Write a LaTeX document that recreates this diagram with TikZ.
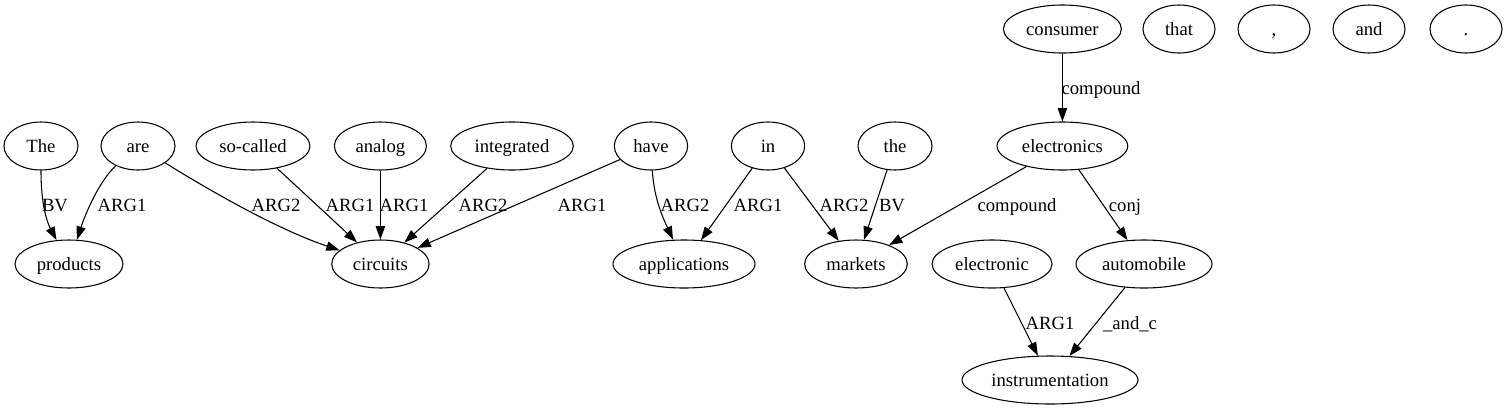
\documentclass[tikz,border=0pt]{standalone}
\usepackage{fontspec}
\setmainfont{Liberation Serif}
\usetikzlibrary{shapes.geometric,arrows.meta}
\begin{document}
\begin{tikzpicture}[x=0.75pt,y=-0.75pt,
  font=\fontsize{14pt}{17pt}\selectfont,
  every node/.style={text height=12pt,text depth=2.5pt},
  nd/.style={ellipse,draw,line width=0.8pt,inner sep=0pt,minimum height=36pt,minimum width=54pt},
  ed/.style={line width=0.8pt,-{Triangle[length=10pt,width=7pt]}},
  lb/.style={inner sep=0pt}]
\useasboundingbox (0,0) rectangle (1512,411);
% row 1
\node[nd,minimum width=88.5pt] (consumer) at (1062.4,29) {consumer};
\node[nd] (that) at (1179,29) {that};
\node[nd] (comma) at (1274,29) {,};
\node[nd] (and) at (1369,29) {and};
\node[nd] (dot) at (1466,29) {.};
% row 2
\node[nd,minimum width=55.5pt] (The) at (41,146) {The};
\node[nd,minimum width=55.5pt] (are) at (138,146) {are};
\node[nd,minimum width=85.5pt] (socalled) at (253,146) {so-called};
\node[nd,minimum width=69pt] (analog) at (380.4,146) {analog};
\node[nd,minimum width=92pt] (integrated) at (512,146) {integrated};
\node[nd,minimum width=55pt] (have) at (651,146) {have};
\node[nd,minimum width=55pt] (in) at (768,146) {in};
\node[nd,minimum width=55.5pt] (the) at (895,146) {the};
\node[nd,minimum width=98pt] (electronics) at (1062.4,146) {electronics};
% row 3
\node[nd,minimum width=81pt] (products) at (69,264) {products};
\node[nd,minimum width=73pt] (circuits) at (380.4,264) {circuits};
\node[nd,minimum width=106.5pt] (applications) at (684,264) {applications};
\node[nd,minimum width=77pt] (markets) at (856,264) {markets};
\node[nd,minimum width=90pt] (electronic) at (992,264) {electronic};
\node[nd,minimum width=102pt] (automobile) at (1144,264) {automobile};
% row 4
\node[nd,minimum width=132pt] (instrumentation) at (1050,380) {instrumentation};
% edges
\draw[ed] (The) .. controls (41,205) and (47,222) .. (products);
\draw[ed] (are) .. controls (100,180) and (86,212) .. (products);
\draw[ed] (are) .. controls (225,200) and (285,232) .. (circuits);
\draw[ed] (socalled) -- (circuits);
\draw[ed] (analog) -- (circuits);
\draw[ed] (integrated) -- (circuits);
\draw[ed] (have) -- (circuits);
\draw[ed] (have) .. controls (654,200) and (664,220) .. (applications);
\draw[ed] (in) -- (applications);
\draw[ed] (in) -- (markets);
\draw[ed] (the) -- (markets);
\draw[ed] (electronics) -- (markets);
\draw[ed] (electronics) -- (automobile);
\draw[ed] (consumer) -- (electronics);
\draw[ed] (electronic) -- (instrumentation);
\draw[ed] (automobile) -- (instrumentation);
% labels
\node[lb] (l1) at (55,205) {BV};
\node[lb] (l2) at (122,205) {ARG1};
\node[lb] (l3) at (276,205) {ARG2};
\node[lb] (l4) at (350,205) {ARG1};
\node[lb] (l5) at (404,205) {ARG1};
\node[lb] (l6) at (483,205) {ARG2};
\node[lb] (l7) at (582,205) {ARG1};
\node[lb] (l8) at (685,205) {ARG2};
\node[lb] (l9) at (758,205) {ARG1};
\node[lb] (l10) at (844,205) {ARG2};
\node[lb] (l11) at (892,205) {BV};
\node[lb] (l12) at (1017,205) {compound};
\node[lb] (l13) at (1125,205) {conj};
\node[lb] (l14) at (1101,88) {compound};
\node[lb] (l15) at (1050,323) {ARG1};
\node[lb] (l16) at (1130,323) {\_and\_c};
\end{tikzpicture}
\end{document}
